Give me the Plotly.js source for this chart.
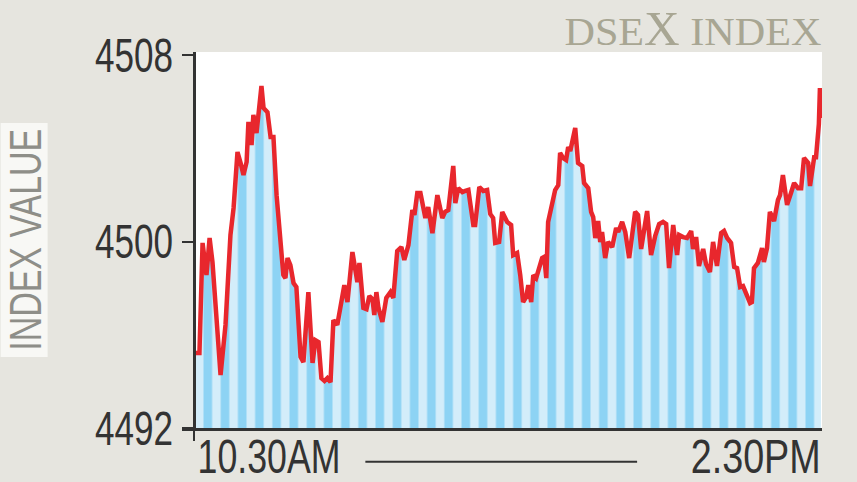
<!DOCTYPE html>
<html>
<head>
<meta charset="utf-8">
<script src="https://cdn.plot.ly/plotly-3.0.1.min.js"></script>
<style>html,body{margin:0;padding:0;background:#e6e5df;}#chart{width:857px;height:482px;}</style>
</head>
<body>
<div id="chart"></div>
<script>
// minutes after 10:30 AM
const minutes = [
  0, 1.5, 2.7, 4.2, 5.4, 6.5, 8.1, 9.6, 11.5, 13.4,
  14.6, 16.1, 17.3, 18.4, 19.6, 20.3, 21.5, 22.2, 23.4, 25.3,
  26.1, 27.6, 28.8, 29.9, 31.1, 32.2, 33.7, 34.5, 35.3, 36.4,
  37.6, 38.7, 40.3, 41.4, 43.3, 44.9, 46.0, 47.2, 48.3, 49.5,
  50.6, 51.8, 52.9, 54.4, 55.6, 57.1, 58.3, 60.2, 62.1, 62.9,
  64.4, 65.6, 66.7, 67.9, 68.6, 69.4, 70.2, 71.7, 73.2, 74.8,
  75.9, 77.4, 79.0, 80.1, 81.7, 83.2, 84.0, 85.1, 86.3, 88.2,
  89.3, 90.9, 92.8, 94.7, 95.8, 97.0, 98.9, 99.7, 100.8, 102.4,
  103.5, 104.7, 106.6, 107.3, 108.9, 110.4, 111.9, 113.1, 114.2, 115.0,
  116.5, 117.7, 119.6, 121.1, 121.9, 123.4, 124.6, 125.7, 126.9, 127.7,
  128.8, 129.6, 130.7, 131.5, 133.0, 133.8, 134.6, 135.3, 136.9, 138.0,
  139.2, 139.9, 141.1, 142.2, 143.0, 143.8, 145.7, 146.8, 148.4, 149.1,
  150.7, 151.8, 152.6, 153.4, 154.5, 155.3, 156.0, 157.2, 158.3, 159.9,
  161.4, 162.2, 163.7, 164.9, 166.4, 168.7, 169.8, 171.0, 173.3, 174.8,
  176.4, 177.9, 179.4, 180.6, 181.7, 183.3, 184.8, 185.6, 187.1, 188.6,
  190.2, 190.9, 192.1, 193.2, 194.8, 195.9, 197.4, 198.6, 200.1, 201.7,
  202.8, 204.0, 205.5, 206.7, 207.8, 209.0, 210.1, 211.6, 212.8, 213.5,
  214.3, 215.8, 217.4, 218.1, 219.3, 220.4, 222.0, 223.5, 224.3, 225.4,
  227.0, 228.5, 229.7, 231.2, 232.4, 233.5, 235.1, 235.8, 237.4, 238.1,
  239.2, 239.6, 240
];
// DSEX index values
const indexValues = [
  4495.22, 4495.22, 4499.94, 4498.56, 4500.15, 4499.12, 4496.63, 4494.27, 4496.42, 4500.28,
  4501.44, 4503.84, 4503.37, 4502.85, 4503.41, 4505.13, 4504.14, 4505.43, 4504.65, 4506.67,
  4505.73, 4505.55, 4504.48, 4504.48, 4501.99, 4500.71, 4498.56, 4498.43, 4499.29, 4498.99,
  4498.22, 4498.05, 4495.05, 4494.83, 4497.83, 4494.79, 4495.77, 4495.69, 4494.14, 4494.02,
  4494.14, 4493.97, 4496.63, 4496.42, 4497.15, 4498.13, 4497.40, 4499.55, 4498.26, 4499.08,
  4497.15, 4497.10, 4497.66, 4497.53, 4496.85, 4497.83, 4497.15, 4496.55, 4497.58, 4497.83,
  4497.58, 4499.59, 4499.76, 4499.21, 4499.85, 4501.35, 4501.14, 4502.08, 4502.08, 4501.01,
  4501.48, 4500.36, 4501.99, 4501.01, 4501.27, 4501.35, 4503.24, 4501.65, 4502.29, 4502.12,
  4502.17, 4502.21, 4500.71, 4500.71, 4502.34, 4502.17, 4502.21, 4501.18, 4501.01, 4499.94,
  4499.98, 4501.27, 4500.84, 4500.71, 4499.42, 4499.51, 4498.56, 4497.40, 4497.62, 4498.13,
  4497.40, 4498.56, 4498.43, 4498.69, 4499.29, 4499.34, 4498.43, 4500.84, 4501.57, 4502.21,
  4502.42, 4503.80, 4503.58, 4503.50, 4504.05, 4503.88, 4504.87, 4503.37, 4503.24, 4502.51,
  4502.29, 4501.27, 4501.05, 4500.15, 4500.88, 4499.98, 4500.41, 4499.29, 4499.98, 4499.76,
  4500.58, 4500.41, 4500.84, 4500.41, 4499.29, 4501.27, 4501.14, 4499.68, 4501.31, 4499.42,
  4500.24, 4500.75, 4500.84, 4500.75, 4498.86, 4500.71, 4499.42, 4500.28, 4500.19, 4500.15,
  4500.45, 4499.68, 4500.19, 4498.95, 4499.68, 4499.03, 4498.69, 4499.98, 4498.95, 4500.36,
  4500.45, 4500.15, 4499.94, 4498.91, 4498.86, 4498.05, 4498.09, 4497.66, 4497.36, 4497.40,
  4498.86, 4499.08, 4499.72, 4499.12, 4499.72, 4501.27, 4500.88, 4501.78, 4501.99, 4502.85,
  4501.57, 4502.08, 4502.51, 4502.29, 4502.29, 4503.58, 4503.37, 4502.38, 4503.62, 4503.62,
  4505.04, 4506.58, 4505.30
];
const yTicks = [4492, 4500, 4508];
const xLabels = ['10.30AM', '2.30PM'];
const chartTitle = 'DSE<span style="font-size:48px">X</span> INDEX';
const yTitle = 'INDEX VALUE';

const sans = '"Liberation Sans", Arial, sans-serif';

// plot area geometry (paper fractions); the y axis sits slightly inside the x domain
const yAxisPos = 0.01952;

const trace = {
  type: 'scatter',
  mode: 'lines',
  x: minutes,
  y: indexValues,
  line: {color: '#e8272d', width: 4.5},
  fill: 'tozeroy',
  fillcolor: '#8dd3f4',
  fillpattern: {shape: '|', bgcolor: '#d3edfa', fgcolor: '#8dd3f4', size: 17.2, solidity: 0.5},
  hoverinfo: 'skip'
};

const layout = {
  width: 857,
  height: 482,
  margin: {l: 181.5, r: 35, t: 52, b: 54},
  paper_bgcolor: '#e6e5df',
  plot_bgcolor: 'rgba(0,0,0,0)',
  showlegend: false,
  xaxis: {
    range: [-5.193, 240.4],
    showgrid: false,
    zeroline: false,
    showline: true,
    linecolor: '#333333',
    linewidth: 3,
    ticks: 'outside',
    tickvals: [-0.4],
    ticklen: 10,
    tickwidth: 2,
    tickcolor: '#333333',
    showticklabels: false,
    fixedrange: true
  },
  yaxis: {
    range: [4492, 4508.13],
    anchor: 'free',
    position: yAxisPos,
    tickvals: yTicks,
    ticktext: yTicks.map(String),
    showgrid: false,
    zeroline: false,
    showline: true,
    linecolor: '#333333',
    linewidth: 3,
    ticks: 'outside',
    ticklen: 11,
    tickwidth: 2,
    tickcolor: '#333333',
    tickfont: {family: sans, size: 48, color: '#333333'},
    fixedrange: true
  },
  shapes: [
    {type: 'rect', xref: 'paper', yref: 'paper', x0: yAxisPos, x1: 1, y0: 0, y1: 1, layer: 'below',
     fillcolor: '#ffffff', line: {width: 0}},
    {type: 'rect', xref: 'paper', yref: 'paper', x0: -0.2834, x1: -0.2100, y0: 0.1888, y1: 0.8112,
     fillcolor: '#f8f8f5', line: {width: 0}},
    {type: 'line', xref: 'paper', yref: 'paper', x0: 0.2865, x1: 0.7111, y0: -0.09, y1: -0.09,
     line: {color: '#333333', width: 2}}
  ],
  annotations: [
    {text: chartTitle, xref: 'paper', yref: 'paper', x: 0.9953, y: 1.0625, xanchor: 'right', yanchor: 'middle',
     borderpad: 0, showarrow: false,
     font: {family: '"Liberation Serif", "DejaVu Serif", serif', size: 41, color: '#a8a693'}},
    {text: yTitle, xref: 'paper', yref: 'paper', x: -0.2459, y: 0.5, xanchor: 'center', yanchor: 'middle',
     textangle: -90, showarrow: false,
     font: {family: sans, size: 44, color: '#8e8e88'}},
    {text: xLabels[0], xref: 'paper', yref: 'paper', x: 0.1358, y: -0.075, xanchor: 'center', yanchor: 'middle',
     showarrow: false, font: {family: sans, size: 48, color: '#333333'}},
    {text: xLabels[1], xref: 'paper', yref: 'paper', x: 0.8954, y: -0.075, xanchor: 'center', yanchor: 'middle',
     showarrow: false, font: {family: sans, size: 48, color: '#333333'}}
  ]
};

Plotly.newPlot('chart', [trace], layout, {staticPlot: true, displayModeBar: false}).then(function () {
  // condensed lettering, as in the reference
  function fit(el, w) {
    el.setAttribute('textLength', w);
    el.setAttribute('lengthAdjust', 'spacingAndGlyphs');
  }
  document.querySelectorAll('.ytick text').forEach(function (t) { fit(t, 78); });
  document.querySelectorAll('.annotation-text').forEach(function (t) {
    var s = t.textContent;
    if (s === xLabels[0]) fit(t, 143);
    else if (s === xLabels[1]) fit(t, 130);
    else if (s === yTitle) fit(t, 222);
    else if (s.indexOf('INDEX') > 0) fit(t, 257);
  });
});
</script>
</body>
</html>
